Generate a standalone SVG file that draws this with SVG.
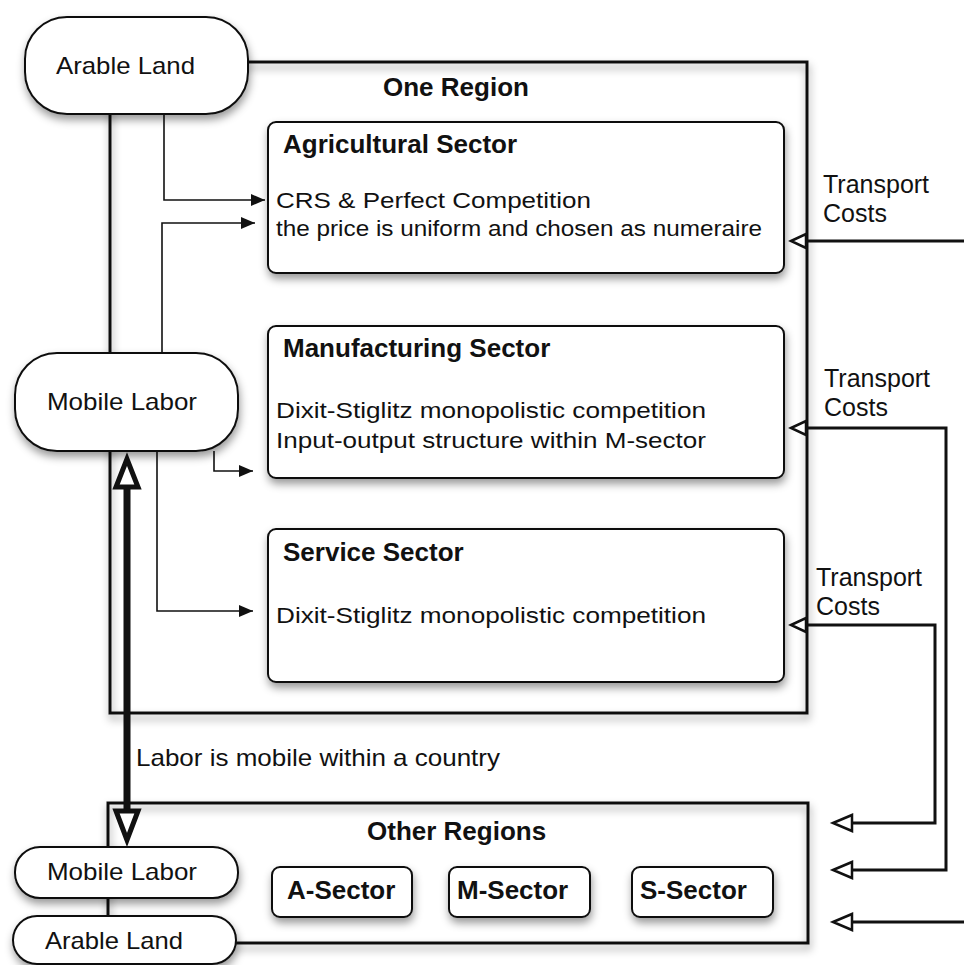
<svg xmlns="http://www.w3.org/2000/svg" width="964" height="965" viewBox="0 0 964 965">
<defs>
<style>
.t{font-family:"Liberation Sans",Arial,sans-serif;fill:#111;}
.r{font-size:22px;}
.p{font-size:24px;}
.b{font-size:26px;font-weight:bold;}
.tc{font-size:25px;}
.box{fill:#fff;stroke:#111;stroke-width:2;}
.frame{fill:none;stroke:#111;stroke-width:3;}
.thin{fill:none;stroke:#111;stroke-width:1.6;}
.tr{fill:none;stroke:#111;stroke-width:3;}
.openh{fill:#fff;stroke:#111;stroke-width:2.5;stroke-linejoin:miter;}
.bigh{fill:#fff;stroke:#111;stroke-width:5;stroke-linejoin:miter;}
</style>
<filter id="sh" x="-10%" y="-10%" width="130%" height="140%">
<feDropShadow dx="1" dy="5" stdDeviation="4" flood-color="#000" flood-opacity="0.4"/>
</filter>
<marker id="fa" markerUnits="userSpaceOnUse" markerWidth="16" markerHeight="14" refX="14" refY="6" orient="auto">
<path d="M0,0 L14,6 L0,12 Z" fill="#111"/>
</marker>
</defs>

<g id="one-region">
<rect class="frame" x="110" y="62" width="697" height="651" filter="url(#sh)"/>
<text class="t b" x="383" y="96">One Region</text>
</g>
<g id="other-regions">
<rect class="frame" x="108" y="803" width="700" height="140" filter="url(#sh)"/>
<text class="t b" x="367" y="840">Other Regions</text>
</g>

<g id="connectors">
<path class="thin" d="M164,114 V200 H265" marker-end="url(#fa)"/>
<path class="thin" d="M162,353 V223 H255" marker-end="url(#fa)"/>
<path class="thin" d="M214,451 V471 H253" marker-end="url(#fa)"/>
<path class="thin" d="M157,451 V611 H253" marker-end="url(#fa)"/>
<line x1="127" y1="487" x2="127" y2="810" stroke="#111" stroke-width="7"/>
<polygon class="bigh" points="127,459 116,487 138,487"/>
<polygon class="bigh" points="127,840 116,811 138,811"/>
<path class="tr" d="M964,241 H806"/>
<polygon class="openh" points="791,241 806,234 806,248"/>
<path class="tr" d="M852,870 H946 V428 H806"/>
<polygon class="openh" points="791,428 806,421 806,435"/>
<polygon class="openh" points="833,870 852,862 852,878"/>
<path class="tr" d="M852,823 H935 V625 H806"/>
<polygon class="openh" points="791,625 806,618 806,632"/>
<polygon class="openh" points="833,823 852,815 852,831"/>
<path class="tr" d="M964,922 H852"/>
<polygon class="openh" points="833,922 852,914 852,930"/>
</g>

<g id="arable-land-top">
<rect class="box" x="25" y="17" width="223" height="97" rx="42" filter="url(#sh)"/>
<text class="t p" x="56" y="74" textLength="139" lengthAdjust="spacingAndGlyphs">Arable Land</text>
</g>
<g id="mobile-labor-top">
<rect class="box" x="15" y="353" width="223" height="98" rx="42" filter="url(#sh)"/>
<text class="t p" x="47" y="410" textLength="150" lengthAdjust="spacingAndGlyphs">Mobile Labor</text>
</g>

<g id="agricultural-sector">
<rect class="box" x="268" y="122" width="516" height="151" rx="8" filter="url(#sh)"/>
<text class="t b" x="283" y="153">Agricultural Sector</text>
<text class="t r" x="276" y="208" textLength="315" lengthAdjust="spacingAndGlyphs">CRS &amp; Perfect Competition</text>
<text class="t r" x="276" y="236" textLength="486" lengthAdjust="spacingAndGlyphs">the price is uniform and chosen as numeraire</text>
</g>
<g id="manufacturing-sector">
<rect class="box" x="268" y="326" width="516" height="152" rx="8" filter="url(#sh)"/>
<text class="t b" x="283" y="357">Manufacturing Sector</text>
<text class="t r" x="276" y="418" textLength="430" lengthAdjust="spacingAndGlyphs">Dixit-Stiglitz monopolistic competition</text>
<text class="t r" x="276" y="448" textLength="430" lengthAdjust="spacingAndGlyphs">Input-output structure within M-sector</text>
</g>
<g id="service-sector">
<rect class="box" x="268" y="529" width="516" height="153" rx="8" filter="url(#sh)"/>
<text class="t b" x="283" y="561">Service Sector</text>
<text class="t r" x="276" y="623" textLength="430" lengthAdjust="spacingAndGlyphs">Dixit-Stiglitz monopolistic competition</text>
</g>

<g id="transport-labels">
<text class="t tc" x="823" y="193">Transport</text>
<text class="t tc" x="823" y="222">Costs</text>
<text class="t tc" x="824" y="387">Transport</text>
<text class="t tc" x="824" y="416">Costs</text>
<text class="t tc" x="816" y="586">Transport</text>
<text class="t tc" x="816" y="615">Costs</text>
</g>
<g id="labor-label">
<text class="t p" x="136" y="766" textLength="364" lengthAdjust="spacingAndGlyphs">Labor is mobile within a country</text>
</g>

<g id="mobile-labor-bottom">
<rect class="box" x="15" y="847" width="223" height="51" rx="25" filter="url(#sh)"/>
<text class="t p" x="47" y="880" textLength="150" lengthAdjust="spacingAndGlyphs">Mobile Labor</text>
</g>
<g id="arable-land-bottom">
<rect class="box" x="13" y="916" width="223" height="48" rx="24" filter="url(#sh)"/>
<text class="t p" x="45" y="949" textLength="138" lengthAdjust="spacingAndGlyphs">Arable Land</text>
</g>
<g id="a-sector">
<rect class="box" x="272" y="867" width="140" height="50" rx="8" filter="url(#sh)"/>
<text class="t b" x="287" y="899">A-Sector</text>
</g>
<g id="m-sector">
<rect class="box" x="449" y="867" width="141" height="50" rx="8" filter="url(#sh)"/>
<text class="t b" x="457" y="899">M-Sector</text>
</g>
<g id="s-sector">
<rect class="box" x="632" y="867" width="141" height="50" rx="8" filter="url(#sh)"/>
<text class="t b" x="640" y="899">S-Sector</text>
</g>
</svg>
